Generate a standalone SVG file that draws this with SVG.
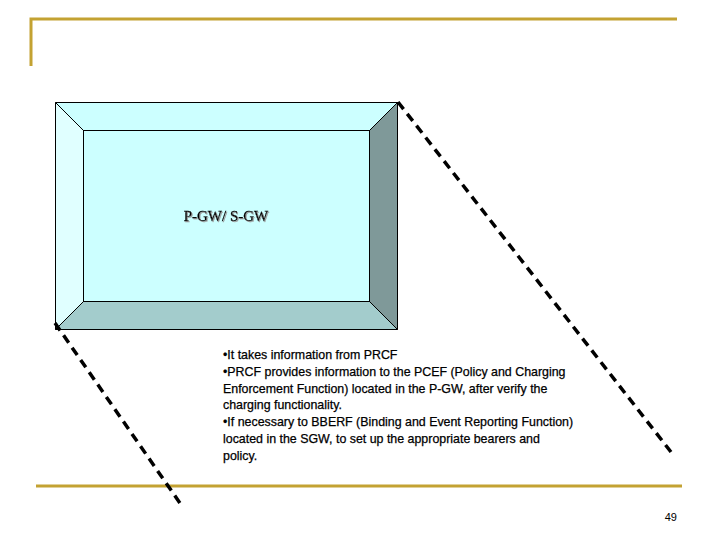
<svg xmlns="http://www.w3.org/2000/svg" width="720" height="540" viewBox="0 0 720 540">
<style>
.gold{stroke:#C3A232;stroke-width:3;fill:none}
.bev{stroke:#000;stroke-width:1}
.dash{stroke:#000;stroke-width:3.5;stroke-dasharray:9,6;fill:none}
.body{font-family:"Liberation Sans",Arial,sans-serif;font-size:12.4px;fill:#000;stroke:#000;stroke-width:0.25}
</style>
<defs>
<filter id="sh" x="-10%" y="-50%" width="130%" height="200%">
<feDropShadow dx="1" dy="1" stdDeviation="0.3" flood-color="#999"/>
</filter>
</defs>
<rect width="720" height="540" fill="#fff"/>
<g id="frame">
<polyline class="gold" points="31,66 31,19 677,19"/>
<line class="gold" x1="36" y1="486" x2="682" y2="486"/>
</g>
<g id="gateway">
<polygon class="bev" fill="#CCFFFF" points="55.5,102.5 397.5,102.5 369.5,130.5 83.5,130.5"/>
<polygon class="bev" fill="#E0FFFF" points="55.5,102.5 83.5,130.5 83.5,301.5 55.5,329.5"/>
<polygon class="bev" fill="#7F9999" points="397.5,102.5 397.5,329.5 369.5,301.5 369.5,130.5"/>
<polygon class="bev" fill="#A3CCCC" points="55.5,329.5 83.5,301.5 369.5,301.5 397.5,329.5"/>
<rect class="bev" x="83.5" y="130.5" width="286" height="171" fill="#CCFFFF"/>
<text x="226" y="221" text-anchor="middle" font-family="Liberation Serif,Times New Roman,serif" font-size="15" fill="#000" stroke="#000" stroke-width="0.3" filter="url(#sh)">P-GW/ S-GW</text>
</g>
<g id="connectors">
<line class="dash" x1="398" y1="102" x2="671" y2="452"/>
<line class="dash" x1="55" y1="323" x2="182" y2="506"/>
</g>
<g id="description">
<text class="body" x="223" y="359">•It takes information from PRCF</text>
<text class="body" x="223" y="376">•PRCF provides information to the PCEF (Policy and Charging</text>
<text class="body" x="223" y="393">Enforcement Function) located in the P-GW, after verify the</text>
<text class="body" x="223" y="409">charging functionality.</text>
<text class="body" x="223" y="426">•If necessary to BBERF (Binding and Event Reporting Function)</text>
<text class="body" x="223" y="443">located in the SGW, to set up the appropriate bearers and</text>
<text class="body" x="223" y="460">policy.</text>
</g>
<text x="677" y="521" text-anchor="end" font-family="Liberation Sans,Arial,sans-serif" font-size="11" fill="#000">49</text>
</svg>
